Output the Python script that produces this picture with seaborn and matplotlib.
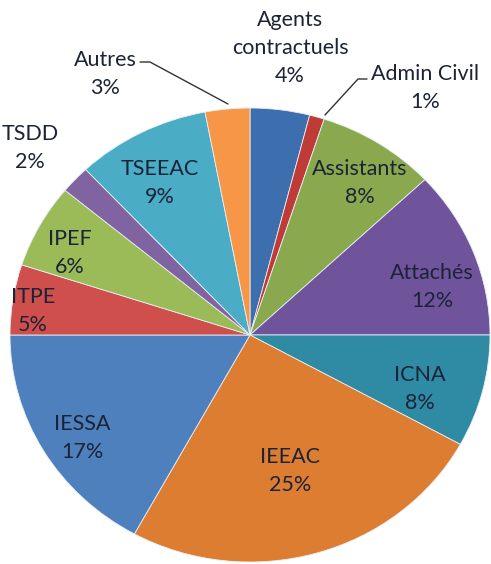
import seaborn as sns
import matplotlib.pyplot as plt

# data
labels = ["Agents\ncontractuels", "Admin Civil", "Assistants", "Attachés", "ICNA", "IEEAC",
          "IESSA", "ITPE", "IPEF", "TSDD", "TSEEAC", "Autres"]
values = [4, 1, 8, 12, 8, 25, 17, 5, 6, 2, 9, 3]
colors = ["#3d6fae", "#be3b38", "#8aa84e", "#6f549b", "#2f8aa4", "#dc7d32",
          "#4e80be", "#cf4f4c", "#9bbb59", "#8064a2", "#4bacc6", "#f79646"]

# label positions (x, y in pie units)
label_pos = [(0.167, 1.264), (0.729, 1.088), (0.458, 0.670), (0.758, 0.211),
             (0.708, -0.238), (0.167, -0.599), (-0.700, -0.454), (-0.904, 0.106),
             (-0.75, 0.361), (-0.917, 0.824), (-0.375, 0.670), (-0.604, 1.150)]

sns.set_theme(style="white")
plt.rcParams['font.family'] = ['Lato', 'DejaVu Sans']

fig = plt.figure(figsize=(4.91, 5.64), dpi=100)
cx, cy, rx, ry = 250, 335, 240, 227
ax = fig.add_axes([(cx - rx) / 491, (564 - cy - ry) / 564, 2 * rx / 491, 2 * ry / 564])

ax.pie(values, colors=colors, startangle=90, counterclock=False, radius=1,
       wedgeprops=dict(edgecolor="#e8eef5", linewidth=0.6))
ax.set_aspect("auto")
ax.set_xlim(-1, 1)
ax.set_ylim(-1, 1)

for lab, v, (x, y) in zip(labels, values, label_pos):
    ax.text(x, y, f"{lab}\n{v}%", ha="center", va="center", fontsize=15.5,
            color="#1c2336", linespacing=1.5, clip_on=False)

# leader lines
def px(p):
    return ((p[0] - cx) / rx, (cy - p[1]) / ry)

for pts in [[(140, 62), (150, 62), (228, 104)], [(367, 79), (358, 79), (325, 115)]]:
    xy = [px(p) for p in pts]
    ax.plot([a for a, b in xy], [b for a, b in xy], color="#333333", lw=1, clip_on=False)

fig.savefig("out.png", dpi=100)
